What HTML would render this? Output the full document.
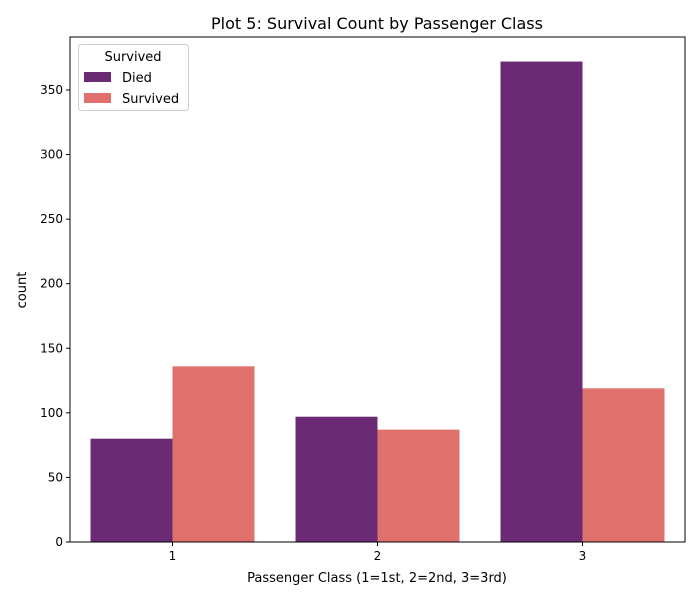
<!DOCTYPE html>
<html><head><meta charset="utf-8"><style>
body{margin:0;background:#fff;font-family:"Liberation Sans","DejaVu Sans",sans-serif}
svg text{font-family:"DejaVu Sans","Liberation Sans",sans-serif}
</style></head><body>
<svg id="chart" width="700" height="600" xmlns="http://www.w3.org/2000/svg">
<rect width="700" height="600" fill="#fff"/>
<text x="377" y="29" text-anchor="middle" font-size="16">Plot 5: Survival Count by Passenger Class</text>
<g id="bars"></g>
<g id="axes"></g>
<text x="377" y="582" text-anchor="middle" font-size="13">Passenger Class (1=1st, 2=2nd, 3=3rd)</text>
<text transform="translate(26,290) rotate(-90)" text-anchor="middle" font-size="13">count</text>
<g>
<rect x="78.5" y="44.5" width="110" height="66" rx="3" fill="#fff" fill-opacity="0.8" stroke="#ccc"/>
<text x="133" y="61" text-anchor="middle" font-size="13">Survived</text>
<rect x="84" y="72" width="27" height="10" fill="#6b2b74"/>
<text x="122" y="82" font-size="13">Died</text>
<rect x="84" y="93" width="27" height="10" fill="#e0706c"/>
<text x="122" y="103" font-size="13">Survived</text>
</g>
</svg>
<script>
const categories=["1","2","3"];
const died=[80,97,372];
const survived=[136,87,119];
const yTicks=[0,50,100,150,200,250,300,350];
const L=70,R=685,T=37,B=542;
const yMax=391;
function y(v){return B-v*(B-T)/yMax;}
const step=(R-L)/categories.length;
function xc(i){return L+step*(i+0.5);}
const NS="http://www.w3.org/2000/svg";
const bars=document.getElementById('bars'),axes=document.getElementById('axes');
function mk(tag,attrs,parent){const e=document.createElementNS(NS,tag);for(const k in attrs)e.setAttribute(k,attrs[k]);parent.appendChild(e);return e;}
const bw=step*0.4;
categories.forEach((c,i)=>{
  const a=mk('rect',{x:xc(i)-bw,y:y(died[i]),width:bw,height:B-y(died[i]),fill:'#6b2b74'},bars);
  
  
  const b=mk('rect',{x:xc(i),y:y(survived[i]),width:bw,height:B-y(survived[i]),fill:'#e0706c'},bars);
  
  
  mk('line',{x1:xc(i),x2:xc(i),y1:B,y2:B+4,stroke:'#000'},axes);
  const t=mk('text',{x:xc(i),y:B+18,'text-anchor':'middle','font-size':12},axes);
  t.textContent=c;
  
  
});
yTicks.forEach(v=>{
  mk('line',{x1:L-4,x2:L,y1:y(v),y2:y(v),stroke:'#000'},axes);
  const t=mk('text',{x:L-7,y:y(v)+4,'text-anchor':'end','font-size':12},axes);
  t.textContent=v;
  
  
});
const f=mk('rect',{x:L,y:T,width:R-L,height:B-T,fill:'none',stroke:'#000','stroke-width':1},axes);


</script>
</body></html>
